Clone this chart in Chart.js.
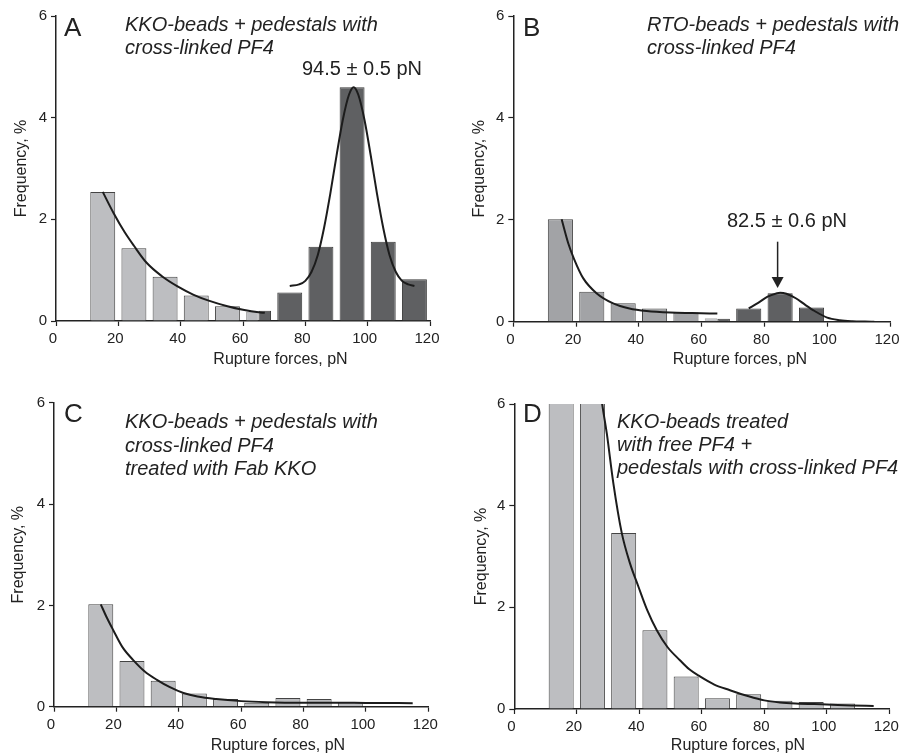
<!DOCTYPE html>
<html><head><meta charset="utf-8">
<script src="https://cdn.jsdelivr.net/npm/chart.js@4/dist/chart.umd.min.js"></script>
<style>
html,body{margin:0;padding:0;background:#fff;overflow:hidden;width:903px;height:756px;position:relative;}
canvas{position:absolute;}
</style></head><body>
<canvas id="cA"></canvas><canvas id="cB"></canvas><canvas id="cC"></canvas><canvas id="cD"></canvas>
<script>
// ---------- axis ticks ----------
const xTicks = [0, 20, 40, 60, 80, 100, 120];
const yTicks = [0, 2, 4, 6];
const xTitle = 'Rupture forces, pN';
const yTitle = 'Frequency, %';

// ---------- Panel A ----------
const aLightX = [15, 25, 35, 45, 55];
const aLightY = [2.54, 1.43, 0.87, 0.50, 0.29];
const aSplitX = [65];
const aSplitLightY = [0.18];
const aSplitDarkY = [0.20];
const aDarkX = [75, 85, 95, 105, 115];
const aDarkY = [0.56, 1.46, 4.60, 1.56, 0.82];
const aExpX = [15, 18.5, 22, 25, 29, 34, 39, 44, 49, 55, 60, 65, 67];
const aExpY = [2.54, 2.12, 1.75, 1.48, 1.15, 0.88, 0.68, 0.52, 0.40, 0.29, 0.22, 0.17, 0.16];
const aGaussX = [75, 78, 80, 82, 84, 86, 88, 90, 92, 94, 95.5, 97, 99, 101, 103, 105, 107, 109, 111, 113, 115];
const aGaussY = [0.69, 0.72, 0.79, 0.97, 1.30, 1.83, 2.50, 3.25, 3.95, 4.45, 4.60, 4.45, 3.95, 3.25, 2.50, 1.83, 1.30, 0.97, 0.79, 0.72, 0.69];

// ---------- Panel B ----------
const bLightX = [15, 25, 35, 45, 55];
const bLightY = [2.01, 0.59, 0.36, 0.26, 0.18];
const bSplitX = [65];
const bSplitLightY = [0.07];
const bSplitDarkY = [0.06];
const bDarkX = [75, 85, 95];
const bDarkY = [0.26, 0.56, 0.28];
const bExpX = [15.4, 17.5, 19.3, 22.3, 26.5, 31.8, 37, 42.5, 50, 57, 65];
const bExpY = [2.01, 1.54, 1.24, 0.85, 0.56, 0.36, 0.26, 0.21, 0.18, 0.17, 0.16];
const bGaussX = [75, 78, 81, 84, 85, 87, 90, 93, 96, 100, 104, 108, 112, 115];
const bGaussY = [0.26, 0.37, 0.49, 0.56, 0.57, 0.55, 0.46, 0.33, 0.21, 0.08, 0.03, 0.01, 0.003, 0.0];
const bArrowX = [84.2];
const bArrowY = [1.57, 0.66];

// ---------- Panel C ----------
const cX = [15, 25, 35, 45, 55, 65, 75, 85, 95];
const cY = [2.02, 0.90, 0.51, 0.26, 0.15, 0.08, 0.17, 0.15, 0.09];
const cExpX = [15, 17, 19, 22, 25.4, 29, 33, 37, 41.5, 46, 52, 60, 68, 80, 90, 100, 115];
const cExpY = [2.02, 1.75, 1.51, 1.17, 0.92, 0.70, 0.53, 0.39, 0.27, 0.20, 0.15, 0.11, 0.09, 0.08, 0.08, 0.075, 0.07];

// ---------- Panel D ----------
const dX = [15, 25, 35, 45, 55, 65, 75, 85, 95, 105];
const dY = [10.2, 7.2, 3.46, 1.55, 0.64, 0.21, 0.29, 0.16, 0.14, 0.11];
const dExpX = [27.5, 28, 29.6, 31.7, 34.4, 37, 39.7, 42.5, 45.6, 49, 53, 56, 59.4, 64, 69, 75, 80, 85, 90, 100, 108, 115];
const dExpY = [6.3, 6.05, 5.42, 4.44, 3.46, 2.87, 2.41, 1.95, 1.55, 1.22, 0.96, 0.78, 0.64, 0.48, 0.37, 0.25, 0.17, 0.13, 0.11, 0.09, 0.07, 0.06];

// ---------- styling ----------
const FONT = "Arial, 'Liberation Sans', Helvetica, sans-serif";
const INK = '#222';
const LIGHT = '#bdbec1', DARK = '#5f6062', MEDIUM = '#a2a3a6';
Chart.defaults.font.family = FONT;
Chart.defaults.color = INK;

const pts = (xs, ys) => xs.map((x, i) => ({x: x, y: ys[i]}));

function barSet(xs, ys, fill, grouped, extra) {
  return Object.assign({
    type: 'bar', data: pts(xs, ys), backgroundColor: fill, borderColor: '#444',
    borderWidth: 1, borderSkipped: 'start', grouped: grouped,
    categoryPercentage: 0.8, barPercentage: 1.0, order: 2
  }, extra || {});
}
function fitSet(xs, ys) {
  return {
    type: 'line', data: pts(xs, ys), borderColor: '#1c1c1c', borderWidth: 2,
    pointRadius: 0, cubicInterpolationMode: 'monotone', fill: false, order: 0
  };
}

function makePanel(id, L, datasets, notes, arrow) {
  const cv = document.getElementById(id);
  cv.width = L.w; cv.height = L.h;
  cv.style.left = L.x + 'px'; cv.style.top = L.y + 'px';
  const aL = L.area.l - L.x, aT = L.area.t - L.y, aR = L.area.r - L.x, aB = L.area.b - L.y;
  new Chart(cv, {
    type: 'bar',
    data: {datasets: datasets},
    options: {
      responsive: false, animation: false, devicePixelRatio: 1,
      layout: {padding: {left: 0, top: aT, right: L.w - aR, bottom: 0}},
      plugins: {legend: {display: false}, tooltip: {enabled: false}},
      scales: {
        x: {
          type: 'linear', min: 0, max: 120, offset: false,
          afterBuildTicks: s => { s.ticks = xTicks.map(v => ({value: v})); },
          afterFit: s => { s.height = L.h - aB; },
          grid: {display: true, drawOnChartArea: false, drawTicks: true, tickLength: 5, tickWidth: 1.2, tickColor: INK, offset: false},
          border: {display: true, color: INK, width: 1.5},
          ticks: {font: {size: 15}, padding: 4, labelOffset: -3, maxRotation: 0, autoSkip: false, color: INK},
          title: {display: false}
        },
        y: {
          type: 'linear', min: 0, max: 6,
          afterBuildTicks: s => { s.ticks = yTicks.map(v => ({value: v})); },
          afterFit: s => { s.width = aL; },
          grid: {display: true, drawOnChartArea: false, drawTicks: true, tickLength: 5, tickWidth: 1.2, tickColor: INK},
          border: {display: true, color: INK, width: 1.5},
          ticks: {font: {size: 15}, padding: 4, color: INK},
          title: {display: true, text: yTitle, font: {size: 16}, color: INK, padding: {top: L.yTitlePad, bottom: 0}}
        }
      }
    },
    plugins: [{
      id: 'notes',
      afterDraw(chart) {
        const ctx = chart.ctx;
        ctx.save();
        ctx.fillStyle = INK;
        // x-axis title (placed as in the reference, right of centre)
        ctx.font = "16px " + FONT;
        ctx.textAlign = 'center';
        ctx.textBaseline = 'middle';
        ctx.fillText(xTitle, L.xTitleX - L.x, L.xTitleY - L.y);
        ctx.textBaseline = 'alphabetic';
        ctx.textAlign = 'left';
        notes.forEach(n => {
          ctx.font = n.font;
          ctx.fillText(n.text, n.x - L.x, n.y - L.y);
        });
        if (arrow) {
          const xs = chart.scales.x, ys = chart.scales.y;
          const px = xs.getPixelForValue(arrow.x[0]);
          const py1 = ys.getPixelForValue(arrow.y[0]);
          const py2 = ys.getPixelForValue(arrow.y[1]);
          ctx.strokeStyle = INK; ctx.lineWidth = 1.5;
          ctx.beginPath(); ctx.moveTo(px, py1); ctx.lineTo(px, py2 - 9); ctx.stroke();
          ctx.beginPath(); ctx.moveTo(px - 6, py2 - 11); ctx.lineTo(px + 6, py2 - 11); ctx.lineTo(px, py2); ctx.closePath(); ctx.fill();
        }
        ctx.restore();
      }
    }]
  });
}

const LETTER = "26px " + FONT;
const ITAL = "italic 20px " + FONT;
const VAL = "20px " + FONT;

// Panel A
makePanel('cA',
  {x: 0, y: 0, w: 451, h: 378, area: {l: 56, t: 16, r: 430, b: 321}, yTitlePad: 12.4, xTitleX: 280.5, xTitleY: 360},
  [
    fitSet(aExpX, aExpY), fitSet(aGaussX, aGaussY),
    barSet(aLightX, aLightY, LIGHT, false),
    barSet(aDarkX, aDarkY, DARK, false, {borderColor: '#3a3a3a'}),
    barSet(aSplitX, aSplitLightY, LIGHT, true, {borderColor: '#999'}),
    barSet(aSplitX, aSplitDarkY, DARK, true, {borderColor: '#3a3a3a'})
  ],
  [
    {text: 'A', x: 64, y: 36, font: LETTER},
    {text: 'KKO-beads + pedestals with', x: 125, y: 31, font: ITAL},
    {text: 'cross-linked PF4', x: 125, y: 54, font: ITAL},
    {text: '94.5 \u00B1 0.5 pN', x: 302, y: 75, font: VAL}
  ]);

// Panel B
makePanel('cB',
  {x: 451, y: 0, w: 460, h: 378, area: {l: 513.3, t: 16, r: 890, b: 321.7}, yTitlePad: 19.4, xTitleX: 740, xTitleY: 360},
  [
    fitSet(bExpX, bExpY), fitSet(bGaussX, bGaussY),
    barSet(bLightX, bLightY, MEDIUM, false),
    barSet(bDarkX, bDarkY, DARK, false, {borderColor: '#3a3a3a'}),
    barSet(bSplitX, bSplitLightY, LIGHT, true, {borderColor: '#aaa'}),
    barSet(bSplitX, bSplitDarkY, DARK, true, {borderColor: '#3a3a3a'})
  ],
  [
    {text: 'B', x: 523, y: 36, font: LETTER},
    {text: 'RTO-beads + pedestals with', x: 647, y: 31, font: ITAL},
    {text: 'cross-linked PF4', x: 647, y: 54, font: ITAL},
    {text: '82.5 \u00B1 0.6 pN', x: 727, y: 227, font: VAL}
  ],
  {x: bArrowX, y: bArrowY});

// Panel C
makePanel('cC',
  {x: 0, y: 378, w: 451, h: 378, area: {l: 54, t: 402.7, r: 428.3, b: 706.7}, yTitlePad: 8.9, xTitleX: 278, xTitleY: 746},
  [
    fitSet(cExpX, cExpY),
    barSet(cX, cY, LIGHT, false)
  ],
  [
    {text: 'C', x: 64, y: 422, font: LETTER},
    {text: 'KKO-beads + pedestals with', x: 125, y: 428, font: ITAL},
    {text: 'cross-linked PF4', x: 125, y: 452, font: ITAL},
    {text: 'treated with Fab KKO', x: 125, y: 475, font: ITAL}
  ]);

// Panel D
makePanel('cD',
  {x: 451, y: 378, w: 460, h: 378, area: {l: 514.3, t: 404, r: 889.3, b: 709}, yTitlePad: 21, xTitleX: 738, xTitleY: 746},
  [
    fitSet(dExpX, dExpY),
    barSet(dX, dY, LIGHT, false, {clip: {top: 0, left: false, right: false, bottom: false}})
  ],
  [
    {text: 'D', x: 523, y: 422, font: LETTER},
    {text: 'KKO-beads treated', x: 617, y: 428, font: ITAL},
    {text: 'with free PF4 +', x: 617, y: 451, font: ITAL},
    {text: 'pedestals with cross-linked PF4', x: 617, y: 474, font: ITAL}
  ]);
</script>
</body></html>
